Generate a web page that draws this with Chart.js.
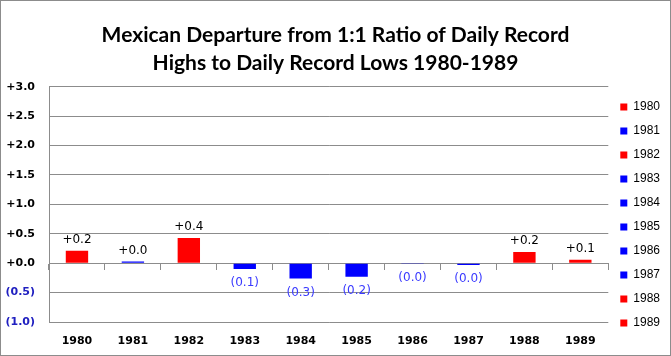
<!DOCTYPE html>
<html>
<head>
<meta charset="utf-8">
<script src="https://cdn.jsdelivr.net/npm/chart.js@4.4.1/dist/chart.umd.min.js"></script>
<style>
  body { margin: 0; background: #fff; }
  #wrap { width: 669px; height: 354px; border: 1px solid #8c8c8c; }
</style>
</head>
<body>
<div id="wrap"><canvas id="chart" width="669" height="354"></canvas></div>
<script>
// years and their departure from the 1:1 ratio
const years = ['1980', '1981', '1982', '1983', '1984', '1985', '1986', '1987', '1988', '1989'];
const departure = [0.21, 0.03, 0.43, -0.10, -0.26, -0.23, -0.004, -0.03, 0.19, 0.06];
const barColors = ['#ff0000', '#0000ff', '#ff0000', '#0000ff', '#0000ff', '#0000ff', '#0000ff', '#0000ff', '#ff0000', '#ff0000'];
const yMin = -1.0, yMax = 3.0, yStep = 0.5;

function fmt(v) {
    if (v < 0) return '(' + Math.abs(v).toFixed(1) + ')';
    return '+' + Math.abs(v).toFixed(1);
}

// writes +0.2 / (0.1) at the end of each bar
const barLabels = {
    id: 'barLabels',
    afterDatasetsDraw(chart) {
        const ctx = chart.ctx;
        const meta = chart.getDatasetMeta(0);
        ctx.save();
        ctx.font = '12px "DejaVu Sans"';
        ctx.textAlign = 'center';
        meta.data.forEach((bar, i) => {
            const v = departure[i];
            if (v >= 0) {
                ctx.fillStyle = '#000';
                ctx.textBaseline = 'bottom';
                ctx.fillText(fmt(v), bar.x, bar.y - 5);
            } else {
                ctx.fillStyle = '#3a3aff';
                ctx.textBaseline = 'top';
                ctx.fillText(fmt(v), bar.x, bar.y + 8);
            }
        });
        ctx.restore();
    }
};

// lift the legend a bit off the bottom edge
const legendLift = {
    id: 'legendLift',
    afterLayout(chart) {
        if (chart.legend) chart.legend.bottom -= 14;
    }
};

new Chart(document.getElementById('chart').getContext('2d'), {
    type: 'bar',
    data: {
        labels: years,
        datasets: [{
            label: 'Departure',
            data: departure,
            backgroundColor: barColors,
            barPercentage: 0.4,
            categoryPercentage: 1.0
        }]
    },
    options: {
        responsive: false,
        animation: false,
        layout: { padding: { left: 0, right: 0, top: 4, bottom: 0 } },
        plugins: {
            title: {
                display: true,
                text: ['Mexican Departure from 1:1 Ratio of Daily Record', 'Highs to Daily Record Lows 1980-1989'],
                color: '#000',
                font: { family: 'Lato', size: 21, weight: 'bold', lineHeight: 1.35 },
                padding: { top: 16, bottom: 9 }
            },
            legend: {
                position: 'right',
                align: 'end',
                labels: {
                    boxWidth: 7,
                    boxHeight: 7,
                    padding: 12,
                    color: '#000',
                    font: { family: 'Liberation Sans', size: 12 },
                    generateLabels: () => years.map((y, i) => ({
                        text: y,
                        fillStyle: barColors[i],
                        strokeStyle: barColors[i],
                        lineWidth: 0,
                        index: i
                    }))
                }
            },
            tooltip: { enabled: false }
        },
        scales: {
            x: {
                grid: { display: false },
                border: { display: false },
                afterFit: (scale) => { scale.height = 33; },
                ticks: {
                    color: '#000',
                    font: { family: 'DejaVu Sans', size: 11, weight: 'bold' },
                    padding: 5
                }
            },
            xZero: {
                type: 'category',
                labels: years,
                position: { y: 0 },
                offset: true,
                grid: { display: true, drawOnChartArea: false, offset: true, tickLength: 6, color: '#8c8c8c' },
                border: { display: true, color: '#8c8c8c' },
                ticks: { display: false }
            },
            y: {
                min: yMin,
                max: yMax,
                grid: { color: '#8c8c8c', tickLength: 0 },
                border: { display: true, color: '#8c8c8c' },
                afterFit: (scale) => { scale.width = 48; },
                ticks: {
                    stepSize: yStep,
                    padding: 14,
                    font: { family: 'DejaVu Sans', size: 11, weight: 'bold' },
                    color: (c) => c.tick.value < 0 ? '#2020c0' : '#000',
                    callback: (v) => fmt(v)
                }
            }
        }
    },
    plugins: [barLabels, legendLift]
});
</script>
</body>
</html>
